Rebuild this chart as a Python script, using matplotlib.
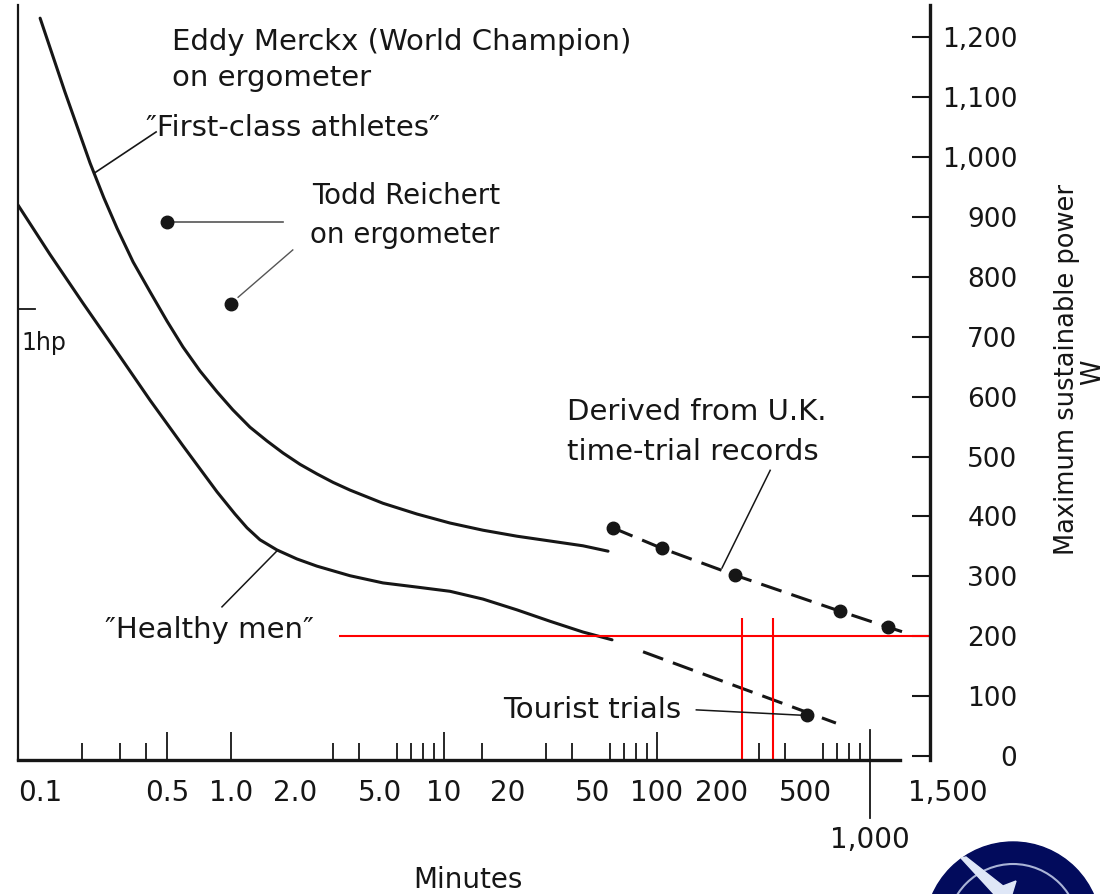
import matplotlib
matplotlib.use('Agg')
import matplotlib.pyplot as plt
from matplotlib.patches import Circle, Polygon
from matplotlib.ticker import FixedLocator, NullFormatter

# Courbes de puissance maximale soutenable (minutes, watts)
athletes_min = [0.127, 0.166, 0.218, 0.253, 0.292, 0.347, 0.417, 0.501, 0.595, 0.715,
                0.860, 1.02, 1.228, 1.476, 1.754, 2.109, 2.533, 3.01, 3.62, 5.17,
                7.47, 10.67, 15.24, 22.0, 31.45, 44.9, 58.9]
athletes_w = [1232, 1109, 990, 932, 881, 825, 775, 726, 683, 643,
              608, 578, 549, 526, 506, 487, 471, 457, 444, 422,
              404, 389, 377, 367, 359, 351, 342]

healthy_min = [0.100, 0.141, 0.202, 0.292, 0.417, 0.595, 0.860, 1.044, 1.189, 1.368,
               1.644, 2.04, 2.533, 3.62, 5.17, 7.47, 10.67, 15.24, 22.0, 31.45,
               44.9, 61.5]
healthy_w = [920, 838, 756, 674, 594, 518, 441, 404, 381, 361,
             344, 329, 317, 301, 289, 282, 275, 262, 244, 225,
             207, 194]

# Records contre-la-montre U.K.
uk_min = [62, 105, 232, 720, 1220]
uk_w = [381, 347, 302, 242, 215]
uk_end_min = 1430
uk_end_w = 207

# Randonneurs
tourist_line_min = [86, 692]
tourist_line_w = [174, 55]
tourist_min = [505]
tourist_w = [68]

# Todd Reichert sur ergometre
todd_min = [0.5, 1.0]
todd_w = [891, 755]

hp_w = 746          # 1 cheval-vapeur
target_w = 200
target_min = [250, 350]

# Axes
y_ticks = list(range(0, 1300, 100))
x_label_vals = [0.1, 0.5, 1, 2, 5, 10, 20, 50, 100, 200, 500, 1500]
x_labels = ['0.1', '0.5', '1.0', '2.0', '5.0', '10', '20', '50', '100', '200', '500', '1,500']
x_short_ticks = [0.2, 0.3, 0.4, 2, 3, 4, 5, 6, 7, 8, 9, 15, 20, 30, 40, 50, 60, 70, 80, 90,
                 200, 300, 400, 500, 600, 700, 800, 900]
x_long_ticks = [0.5, 1, 10, 100]

X_MIN, X_MAX = 0.1, 1913
Y_MIN, Y_MAX = -6.7, 1254

INK = '#161616'


def tracer_graphique():
    fig = plt.figure(figsize=(11.05, 8.94), dpi=100)
    ax = fig.add_axes([18 / 1105, 134 / 894, 912 / 1105, 755 / 894])
    ax.set_xscale('log')
    ax.set_xlim(X_MIN, X_MAX)
    ax.set_ylim(Y_MIN, Y_MAX)

    ax.spines['top'].set_visible(False)
    ax.spines['left'].set_linewidth(1.6)
    ax.spines['right'].set_linewidth(2.4)
    ax.spines['bottom'].set_linewidth(2.4)
    ax.spines['bottom'].set_bounds(0.1, 1380)
    for s in ax.spines.values():
        s.set_color(INK)

    # axe des puissances a droite
    ax.yaxis.tick_right()
    ax.set_yticks(y_ticks)
    ax.set_yticklabels([f'{v:,}' for v in y_ticks])
    ax.tick_params(axis='y', direction='in', length=13, width=1.5, pad=63,
                   labelsize=19, colors=INK)
    for lbl in ax.get_yticklabels():
        lbl.set_ha('right')

    # axe des minutes
    ax.xaxis.set_major_locator(FixedLocator(x_label_vals))
    ax.set_xticklabels(x_labels)
    ax.xaxis.set_minor_locator(FixedLocator(x_short_ticks))
    ax.xaxis.set_minor_formatter(NullFormatter())
    ax.tick_params(axis='x', which='major', length=0, pad=14, labelsize=20, colors=INK)
    ax.tick_params(axis='x', which='minor', direction='in', length=12.5, width=1.3, colors=INK)
    xlabels = ax.get_xticklabels()
    xlabels[0].set_ha('left')
    xlabels[-1].set_ha('left')
    ax.vlines(x_long_ticks, 0, 0.037, transform=ax.get_xaxis_transform(), color=INK, lw=1.3)
    ax.plot([1000, 1000], [-0.077, 0.04], transform=ax.get_xaxis_transform(),
            color=INK, lw=1.3, clip_on=False)
    ax.text(1000, -0.106, '1,000', transform=ax.get_xaxis_transform(),
            ha='center', va='center', fontsize=20, color=INK)

    # repere 1 hp
    ax.plot([0.1, 0.12], [hp_w, hp_w], color=INK, lw=1.3)

    # courbes
    ax.plot(athletes_min, athletes_w, color=INK, lw=2.2, solid_capstyle='round',
            solid_joinstyle='round')
    ax.plot(healthy_min, healthy_w, color=INK, lw=2.2, solid_capstyle='round',
            solid_joinstyle='round')

    ax.plot(uk_min + [uk_end_min], uk_w + [uk_end_w], color=INK, lw=2.2, dashes=(7, 3.4))
    ax.plot(uk_min, uk_w, 'o', color=INK, ms=9, zorder=5)
    ax.plot(tourist_line_min, tourist_line_w, color=INK, lw=2.2, dashes=(7, 3.4))
    ax.plot(tourist_min, tourist_w, 'o', color=INK, ms=9, zorder=5)
    ax.plot(todd_min, todd_w, 'o', color=INK, ms=9, zorder=5)

    # lignes rouges
    ax.hlines(target_w, 3.2, X_MAX, color='red', lw=1.5)
    ax.vlines(target_min, Y_MIN, 230, color='red', lw=1.5)

    # traits de rappel
    ax.plot([0.2275, 0.445], [973, 1042], color=INK, lw=1.2)
    ax.plot([todd_min[0], 1.75], [todd_w[0], todd_w[0]], color='#555555', lw=1.2)
    ax.plot([1.08, 1.95], [766, 845], color='#555555', lw=1.0)
    ax.plot([0.907, 1.66], [249, 344], color=INK, lw=1.1)
    ax.plot([202, 340], [314, 477], color=INK, lw=1.1)
    ax.plot([153, 482], [77, 68], color=INK, lw=1.1)

    # textes
    kw = dict(fontsize=21, color=INK, ha='left', va='center')
    ax.text(0.528, 1192, 'Eddy Merckx (World Champion)', **kw)
    ax.text(0.528, 1132, 'on ergometer', **kw)
    ax.text(0.399, 1048, '\u2033First-class athletes\u2033', **kw)
    ax.text(2.40, 935, 'Todd Reichert', fontsize=20, color=INK, va='center')
    ax.text(2.34, 870, 'on ergometer', fontsize=20, color=INK, va='center')
    ax.text(0.104, 689, '1hp', fontsize=17, color=INK, va='center')
    ax.text(37.7, 574, 'Derived from U.K.', **kw)
    ax.text(37.7, 507, 'time-trial records', **kw)
    ax.text(0.256, 210, '\u2033Healthy men\u2033', **kw)
    ax.text(18.9, 77, 'Tourist trials', **kw)
    ax.text(0.493, -0.159, 'Minutes', transform=ax.transAxes, ha='center', va='center',
            fontsize=20, color=INK)
    ax.text(1.150, 0.517, 'Maximum sustainable power', transform=ax.transAxes, rotation=90,
            ha='center', va='center', fontsize=18.5, color=INK)
    ax.text(1.179, 0.514, 'W', transform=ax.transAxes, rotation=90,
            ha='center', va='center', fontsize=18.5, color=INK)

    # logo en bas a droite
    ov = fig.add_axes([0, 0, 1, 1])
    ov.set_xlim(0, 1105)
    ov.set_ylim(894, 0)
    ov.axis('off')
    ov.add_patch(Circle((1013, 930), 88, color='#020b5c'))
    ov.add_patch(Circle((1013, 930), 66, fill=False, ec='#aab4d6', lw=1.5))
    ov.add_patch(Polygon([(961, 858), (966, 857), (1003, 886), (1016, 881), (1012, 894),
                          (994, 894)], closed=True, color='#dfe7f7'))

    fig.savefig('out.png', dpi=100)


if __name__ == '__main__':
    tracer_graphique()
